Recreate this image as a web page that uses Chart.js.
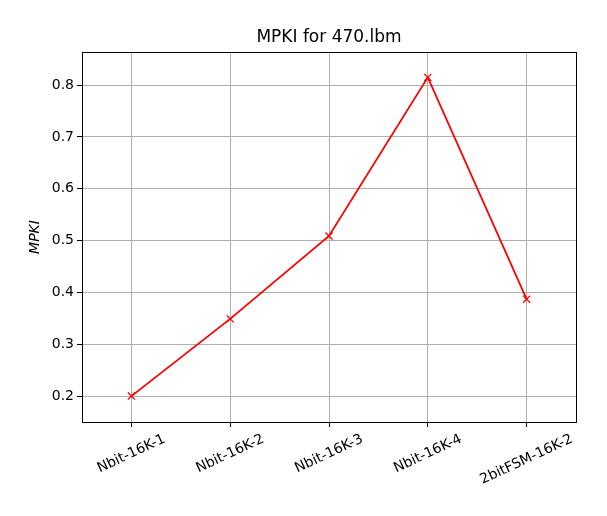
<!DOCTYPE html>
<html>
<head>
<meta charset="utf-8">
<script src="https://cdn.jsdelivr.net/npm/chart.js@4"></script>
<style>
  html, body { margin: 0; padding: 0; background: #fff; }
  #myChart { display: block; }
</style>
</head>
<body>
<canvas id="myChart" width="607" height="516"></canvas>
<script>
const configs = ['Nbit-16K-1', 'Nbit-16K-2', 'Nbit-16K-3', 'Nbit-16K-4', '2bitFSM-16K-2']
const mpki = [0.200, 0.349, 0.509, 0.815, 0.387]
const yTicks = [0.2, 0.3, 0.4, 0.5, 0.6, 0.7, 0.8]
const chartTitle = 'MPKI for 470.lbm'

const FONT = "'DejaVu Sans', sans-serif"

// black box round the plot, like matplotlib spines
const frame = {
  id: 'frame',
  afterDatasetsDraw(chart) {
    const a = chart.chartArea
    const ctx = chart.ctx
    ctx.save()
    ctx.strokeStyle = '#000'
    ctx.lineWidth = 1
    ctx.strokeRect(Math.round(a.left) + 0.5, Math.round(a.top) + 0.5,
      Math.round(a.right - a.left), Math.round(a.bottom - a.top))
    ctx.restore()
  }
}

// title centred over the axes, rotated x labels centred on their tick
const texts = {
  id: 'texts',
  afterDraw(chart) {
    const xs = chart.scales.x
    const a = chart.chartArea
    const ctx = chart.ctx
    ctx.save()
    ctx.fillStyle = '#000'
    ctx.textAlign = 'center'
    ctx.textBaseline = 'middle'
    ctx.font = '17px ' + FONT
    ctx.fillText(chartTitle, (a.left + a.right) / 2, a.top - 14)

    const ang = 25 * Math.PI / 180
    const h = 14
    ctx.font = '14px ' + FONT
    configs.forEach((lab, i) => {
      const x = xs.getPixelForTick(i)
      const w = ctx.measureText(lab).width
      const boxH = w * Math.sin(ang) + h * Math.cos(ang)
      const y = a.bottom + 10 + boxH / 2
      ctx.save()
      ctx.translate(x, y)
      ctx.rotate(-ang)
      ctx.fillText(lab, 0, 0)
      ctx.restore()
    })
    ctx.restore()
  }
}

const data = {
  labels: configs,
  datasets: [
    {
      label: 'MPKI',
      data: mpki,
      borderColor: '#ff0000',
      backgroundColor: '#ff0000',
      borderWidth: 1.8,
      pointStyle: 'crossRot',
      pointRadius: 5,
      pointHoverRadius: 5,
      pointBorderWidth: 1.3,
      tension: 0,
      fill: false
    }
  ]
}

const config = {
  type: 'line',
  data: data,
  options: {
    responsive: false,
    animation: false,
    layout: { padding: { left: 0, right: 31, top: 52, bottom: 0 } },
    plugins: {
      legend: { display: false },
      tooltip: { enabled: false },
      title: { display: false }
    },
    scales: {
      x: {
        type: 'category',
        offset: true,
        grid: {
          offset: false,
          color: '#b0b0b0',
          lineWidth: 1,
          drawTicks: true,
          tickLength: 5,
          tickColor: '#000'
        },
        border: { display: false },
        ticks: { display: false },
        afterFit(scale) { scale.height = 94 }
      },
      y: {
        min: 0.150,
        max: 0.864,
        afterBuildTicks(scale) {
          scale.ticks = yTicks.map(v => ({ value: v }))
        },
        grid: {
          color: '#b0b0b0',
          lineWidth: 1,
          drawTicks: true,
          tickLength: 5,
          tickColor: '#000'
        },
        border: { display: false },
        ticks: {
          color: '#000',
          padding: 3,
          font: { family: FONT, size: 14 },
          callback: v => Number(v).toFixed(1)
        },
        title: {
          display: true,
          text: 'MPKI',
          color: '#000',
          font: { family: FONT, size: 14, style: 'italic' },
          padding: { top: 27, bottom: 0 }
        },
        afterFit(scale) { scale.width = 82 }
      }
    }
  },
  plugins: [frame, texts]
}

new Chart(document.querySelector('#myChart'), config)
</script>
</body>
</html>
